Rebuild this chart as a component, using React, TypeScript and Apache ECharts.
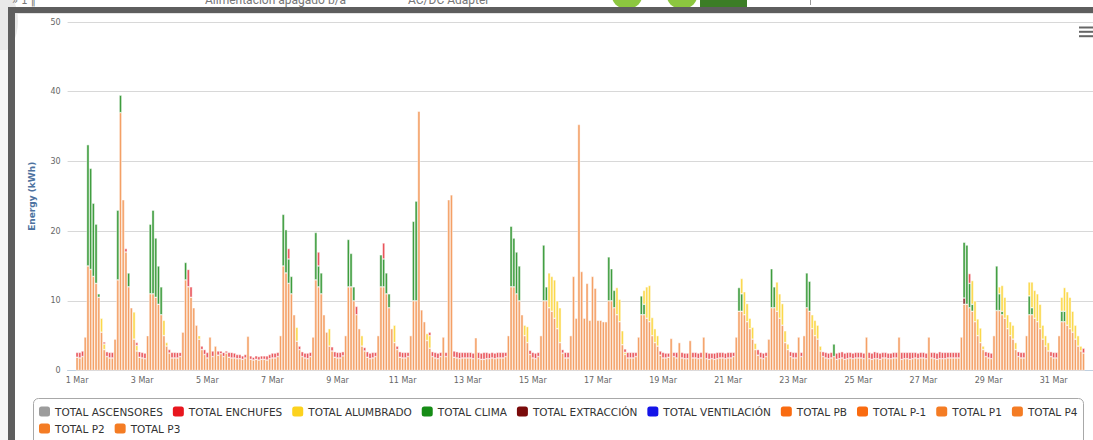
import React, { useEffect, useRef } from 'react';
import * as echarts from 'echarts';

// Tick labels (every second day of March)
const dayLabels = ['1 Mar', '3 Mar', '5 Mar', '7 Mar', '9 Mar', '11 Mar', '13 Mar', '15 Mar', '17 Mar', '19 Mar', '21 Mar', '23 Mar', '25 Mar', '27 Mar', '29 Mar', '31 Mar'];

const legendRow1 = ['TOTAL ASCENSORES', 'TOTAL ENCHUFES', 'TOTAL ALUMBRADO', 'TOTAL CLIMA', 'TOTAL EXTRACCIÓN', 'TOTAL VENTILACIÓN', 'TOTAL PB', 'TOTAL P-1', 'TOTAL P1', 'TOTAL P4'];
const legendRow2 = ['TOTAL P2', 'TOTAL P3'];

// Energy (kWh) per 2-hour slot, one row per day (1..31 Mar), 12 slots per row
const p3Rows: number[][] = [
  [1.9, 1.8, 2.0, 4.8, 15, 14.5, 13.5, 12.5, 10.5, 5.5, 3, 2],
  [1.8, 1.8, 4.5, 13, 37, 24.5, 17, 12, 9, 4.5, 2.8, 1.9],
  [1.8, 1.7, 5, 11, 11, 10.5, 9.5, 8, 5, 3.5, 2.5, 1.8],
  [1.8, 1.8, 2, 5.5, 13, 12, 10.5, 9, 6.5, 4.5, 3, 2.3],
  [1.8, 4.8, 2, 3.5, 2.2, 2.4, 2, 2.5, 1.9, 1.8, 1.8, 1.7],
  [1.7, 1.6, 1.8, 4.9, 1.6, 1.5, 1.6, 1.5, 1.6, 1.6, 1.5, 1.7],
  [1.8, 1.8, 2, 5, 15, 14, 12.5, 11, 8, 4.2, 3, 2],
  [1.8, 1.7, 2, 4.8, 13, 12, 11, 8, 5.5, 3.5, 2.8, 1.9],
  [1.8, 1.8, 2.1, 5, 12, 12, 10, 8, 6, 3.5, 2.8, 1.9],
  [1.7, 1.8, 2, 5, 12, 12, 11, 9, 6, 4, 3, 1.9],
  [1.8, 1.8, 2, 5, 10, 10, 37.2, 8.7, 7, 4.3, 3.2, 2],
  [1.8, 1.7, 2, 4.8, 2, 24.5, 25.2, 1.9, 1.8, 1.7, 1.8, 1.8],
  [1.8, 1.8, 1.7, 4.7, 1.7, 1.6, 1.6, 1.7, 1.7, 1.8, 1.7, 1.8],
  [1.8, 1.8, 2, 5, 12, 12, 11, 10, 8, 5, 4, 2.3],
  [1.8, 1.7, 2, 5, 10, 10, 9, 8.5, 7.5, 6, 4, 2.5],
  [1.8, 1.8, 5, 13.5, 7.5, 35.3, 14.2, 7.5, 12.5, 7.2, 13.5, 11.8],
  [7.2, 7.2, 7, 7, 10, 10, 9, 8, 7, 3.7, 2.3, 1.8],
  [1.8, 1.8, 2, 4.8, 8, 8, 7.5, 7, 5, 4, 3.5, 2.2],
  [1.8, 1.8, 1.9, 4.6, 2, 1.8, 4, 1.8, 1.7, 1.7, 4.3, 1.8],
  [1.8, 1.7, 1.8, 4.8, 1.7, 1.6, 1.7, 1.6, 1.7, 1.8, 1.8, 1.7],
  [1.8, 1.8, 2, 4.8, 8.5, 8.5, 8, 7, 6, 4.5, 3, 2.2],
  [1.8, 1.7, 2, 4.5, 9, 9, 8.5, 7.5, 6.5, 4, 3, 2],
  [1.8, 1.8, 4.8, 2, 5, 9, 8.5, 6, 5, 4.5, 2.8, 2],
  [1.8, 1.7, 1.8, 2, 1.6, 1.7, 1.8, 1.6, 1.7, 1.8, 1.7, 1.8],
  [1.8, 1.8, 1.7, 4.8, 1.7, 1.6, 1.7, 1.7, 1.6, 1.8, 1.8, 1.7],
  [1.7, 1.8, 1.8, 4.8, 1.6, 1.7, 1.7, 1.6, 1.7, 1.8, 1.7, 1.8],
  [1.8, 1.7, 4.8, 1.8, 1.7, 1.6, 1.7, 1.7, 1.7, 1.8, 1.8, 1.8],
  [1.8, 1.8, 4.8, 9.5, 9.5, 9, 8.5, 7, 5, 4, 3, 2],
  [1.8, 1.7, 5, 8.6, 8.6, 8, 7.5, 6, 5, 4.5, 3, 2],
  [1.8, 1.8, 5, 8, 8, 7.5, 7, 6, 4.5, 3.5, 2.8, 2],
  [1.8, 1.8, 5, 7, 7, 6.5, 6, 5.5, 4.5, 3.5, 2.8, 2.5],
];

const enchufesRows: number[][] = [
  [0.7, 0.8, 0.8, 0, 0, 0, 0, 0, 0, 0, 0.3, 0.7],
  [0.8, 0.8, 0, 0, 0, 0, 0.5, 0, 0, 0, 0.4, 0.8],
  [0.8, 0.8, 0, 0, 0, 0, 0, 0, 0, 0, 0.5, 0.8],
  [0.8, 0.8, 0.6, 0, 0, 2.5, 1.5, 0, 0, 0, 0.5, 0.7],
  [0.8, 0, 0.8, 0, 0.6, 0.4, 0.6, 0.3, 0.7, 0.8, 0.7, 0.6],
  [0.6, 0.5, 0.5, 0, 0.5, 0.4, 0.5, 0.5, 0.5, 0.5, 0.6, 0.6],
  [0.7, 0.7, 0.6, 0, 0, 0, 1.5, 0, 0, 0, 0.5, 0.7],
  [0.7, 0.8, 0.6, 0, 0, 2, 0, 0, 0, 0, 0.6, 0.8],
  [0.8, 0.8, 0.6, 0, 0, 0, 0, 1.2, 0, 0, 0.5, 0.8],
  [0.8, 0.8, 0.6, 0, 0, 2.3, 0, 0, 0, 0, 0.5, 0.8],
  [0.8, 0.8, 0.6, 0, 0, 0, 0, 0, 0, 0, 0.5, 0.7],
  [0.8, 0.8, 0.6, 0, 0.6, 0, 0, 0.9, 0.9, 0.9, 0.8, 0.8],
  [0.8, 0.8, 0.8, 0, 0.9, 0.9, 1, 0.9, 0.8, 0.8, 0.8, 0.8],
  [0.8, 0.8, 0.6, 0, 0, 0, 0, 0, 0, 0, 0, 0.6],
  [0.8, 0.8, 0.6, 0, 0, 0, 0, 0, 0, 0, 0, 0.5],
  [0.8, 0.8, 0, 0, 0, 0, 0, 0, 0, 0, 0, 0],
  [0, 0, 0, 0, 0, 0, 0, 0, 0, 0, 0.5, 0.8],
  [0.8, 0.8, 0.6, 0, 0, 0, 0, 0, 0, 0, 0, 0.6],
  [0.8, 0.7, 0.6, 0, 0.6, 0.8, 0, 0.8, 0.8, 0.8, 0, 0.8],
  [0.8, 0.8, 0.8, 0, 0.9, 0.9, 0.8, 0.9, 0.9, 0.8, 0.8, 0.8],
  [0.8, 0.8, 0.6, 0, 0, 0, 0, 0, 0, 0, 0, 0.8],
  [0.8, 0.8, 0.6, 0, 0, 0, 0, 0, 0, 0, 0, 0.7],
  [0.8, 0.8, 0, 0.6, 0, 0, 0, 0, 0, 0, 0, 0.7],
  [0.8, 0.8, 0.8, 0, 0.9, 0.9, 0.9, 0.9, 0.9, 0.8, 0.8, 0.8],
  [0.8, 0.8, 0.8, 0, 0.9, 0.9, 1, 0.9, 0.9, 0.8, 0.8, 0.8],
  [0.8, 0.8, 0.8, 0, 1, 0.9, 0.9, 1, 0.9, 0.8, 0.8, 0.8],
  [0.8, 0.8, 0, 0.8, 0.9, 0.9, 1, 0.9, 0.9, 0.8, 0.8, 0.8],
  [0.8, 0.8, 0, 0, 0, 1.4, 0, 0, 0, 0, 0, 0.7],
  [0.8, 0.8, 0, 0, 0, 0, 0, 0, 0, 0, 0, 0.7],
  [0.8, 0.8, 0, 0, 0, 0, 0, 0, 0, 0, 0, 0.7],
  [0.8, 0.8, 0, 0, 0, 0, 0, 0, 0, 0, 0, 0.7],
];

// [day, 2-hour slot, kWh]
const climaPoints: [number, number, number][] = [
  [1, 4, 17.4], [1, 5, 14.5], [1, 6, 10.5], [1, 7, 8.5], [1, 8, 0.5],
  [2, 3, 10], [2, 4, 2.5], [2, 7, 2],
  [3, 3, 10], [3, 4, 12], [3, 5, 8.5], [3, 6, 5.5], [3, 7, 4],
  [4, 4, 2.5],
  [7, 4, 7.4], [7, 5, 6.2], [7, 6, 3.5], [7, 7, 2.5],
  [8, 4, 6.8], [8, 5, 3], [8, 6, 3],
  [9, 4, 6.8], [9, 5, 4.8], [9, 6, 2],
  [10, 4, 4.6], [10, 5, 4], [10, 6, 3], [10, 7, 2],
  [11, 4, 11.4], [11, 5, 14.3],
  [14, 4, 8.7], [14, 5, 7], [14, 6, 6], [14, 7, 5],
  [15, 4, 8], [15, 5, 2],
  [17, 4, 6.3], [17, 5, 4.6], [17, 6, 2.5],
  [18, 4, 2.7], [18, 5, 1.5],
  [21, 4, 3.4], [21, 5, 2.5],
  [22, 4, 5.6], [22, 5, 3],
  [23, 5, 5], [23, 6, 4.3],
  [24, 3, 1.8],
  [28, 3, 8], [28, 4, 8.5], [28, 5, 3.5], [28, 6, 1],
  [29, 3, 6.4], [29, 4, 2.4], [29, 5, 0.5],
  [30, 3, 2.7], [30, 4, 1],
  [31, 3, 1.5], [31, 4, 1.5],
];

const alumbradoPoints: [number, number, number][] = [
  [1, 9, 2], [1, 10, 0.8],
  [2, 9, 3.9], [2, 10, 0.8],
  [3, 8, 2.2], [3, 9, 0.5],
  [4, 9, 0.5],
  [7, 9, 2],
  [8, 9, 2.5],
  [9, 9, 1.5],
  [10, 9, 2.5],
  [11, 9, 1], [11, 10, 1.8],
  [14, 9, 1.5], [14, 10, 2.3],
  [15, 6, 5], [15, 7, 5], [15, 8, 5.5], [15, 9, 4], [15, 10, 5],
  [17, 7, 3.9], [17, 8, 3.2], [17, 9, 2], [17, 10, 0.3],
  [18, 5, 2], [18, 6, 4.5], [18, 7, 5.2], [18, 8, 2.6], [18, 9, 2], [18, 10, 1.5],
  [21, 5, 2.2], [21, 6, 3.3], [21, 7, 2.6], [21, 8, 1.5], [21, 9, 1.7], [21, 10, 0.9],
  [22, 6, 4.2], [22, 7, 3.5], [22, 8, 3.1], [22, 9, 1.7], [22, 10, 0.8],
  [23, 7, 2], [23, 8, 2.2], [23, 9, 2], [23, 10, 0.7],
  [28, 6, 3.4], [28, 7, 3], [28, 8, 2.4], [28, 9, 2.1], [28, 10, 0.5],
  [29, 4, 1], [29, 5, 3.7], [29, 6, 3], [29, 7, 2], [29, 8, 2], [29, 9, 2], [29, 10, 1],
  [30, 3, 2], [30, 4, 3.7], [30, 5, 4], [30, 6, 4], [30, 7, 3.5], [30, 8, 2], [30, 9, 1.5], [30, 10, 1.2],
  [31, 3, 2], [31, 4, 3.4], [31, 5, 4.8], [31, 6, 4.5], [31, 7, 3], [31, 8, 2], [31, 9, 1.5], [31, 10, 0.7],
];

const extraccionPoints: [number, number, number][] = [[28, 3, 0.9]];
const noPoints: [number, number, number][] = [];

const DAYS = 31;
const SLOTS = 12;
const SLOTS_PER_LABEL = 24; // a label every 2 days
const PAD = 3; // empty slots at each end of the time axis

const fromRows = (rows: number[][]) => rows.flat();
const fromPoints = (pts: [number, number, number][]) => {
  const out: number[] = new Array(DAYS * SLOTS).fill(0);
  for (const [d, s, v] of pts) out[(d - 1) * SLOTS + s] = v;
  return out;
};
const padded = (vals: (number | null)[]) => [
  ...new Array(PAD).fill(null),
  ...vals.map((v) => (v && v > 0 ? v : null)),
  ...new Array(PAD).fill(null),
];

// category per 2-hour slot (with padding slots around the month)
const slotCategories: string[] = [];
for (let i = 0; i < PAD; i++) slotCategories.push(`pre${i}`);
for (let d = 1; d <= DAYS; d++) for (let s = 0; s < SLOTS; s++) slotCategories.push(`${d} Mar ${s * 2}h`);
for (let i = 0; i < PAD; i++) slotCategories.push(`post${i}`);

// legend colour (solid) and bar fill (as it shows among the thin white-edged columns)
const seriesDefs: { name: string; legend: string; fill: string; values: number[] }[] = [
  { name: 'TOTAL P3', legend: '#f47c24', fill: '#f4a066', values: fromRows(p3Rows) },
  { name: 'TOTAL P2', legend: '#f47c24', fill: '#f4a066', values: fromPoints(noPoints) },
  { name: 'TOTAL P4', legend: '#f47c24', fill: '#f4a066', values: fromPoints(noPoints) },
  { name: 'TOTAL P1', legend: '#f47c24', fill: '#f4a066', values: fromPoints(noPoints) },
  { name: 'TOTAL P-1', legend: '#f96b10', fill: '#f58a45', values: fromPoints(noPoints) },
  { name: 'TOTAL PB', legend: '#f96b10', fill: '#f58a45', values: fromPoints(noPoints) },
  { name: 'TOTAL VENTILACIÓN', legend: '#1414e8', fill: '#1414e8', values: fromPoints(noPoints) },
  { name: 'TOTAL EXTRACCIÓN', legend: '#7a0b0b', fill: '#8a2a2a', values: fromPoints(extraccionPoints) },
  { name: 'TOTAL CLIMA', legend: '#168c16', fill: '#3d9c3d', values: fromPoints(climaPoints) },
  { name: 'TOTAL ALUMBRADO', legend: '#fcd21e', fill: '#fbd84a', values: fromPoints(alumbradoPoints) },
  { name: 'TOTAL ENCHUFES', legend: '#e8161e', fill: '#e9545a', values: fromRows(enchufesRows) },
  { name: 'TOTAL ASCENSORES', legend: '#9c9c9c', fill: '#9c9c9c', values: fromPoints(noPoints) },
];
const legendColor: Record<string, string> = Object.fromEntries(seriesDefs.map((s) => [s.name, s.legend]));

const FONT = 'DejaVu Sans, Verdana, sans-serif';

const isLabelSlot = (idx: number) => idx >= PAD && (idx - PAD) % SLOTS_PER_LABEL === 0 && (idx - PAD) / SLOTS_PER_LABEL < dayLabels.length;

function Chart() {
  const ref = useRef<HTMLDivElement>(null);
  useEffect(() => {
    if (!ref.current) return;
    const chart = echarts.init(ref.current, undefined, { renderer: 'svg' });
    const legendCommon = {
      orient: 'horizontal' as const,
      icon: 'roundRect',
      itemWidth: 11,
      itemHeight: 10,
      itemGap: 10,
      selectedMode: false,
      textStyle: { color: '#333', fontSize: 10.5, fontFamily: FONT },
      padding: 0,
    };
    const legendData = (names: string[]) => names.map((name) => ({ name, itemStyle: { color: legendColor[name], borderWidth: 0 } }));
    chart.setOption({
      animation: false,
      textStyle: { fontFamily: FONT },
      grid: { left: 67.6, right: 0, top: 22, bottom: 69.5, containLabel: false },
      xAxis: {
        type: 'category',
        data: slotCategories,
        boundaryGap: true,
        splitLine: { show: false },
        axisLine: { show: true, lineStyle: { color: '#c0d0e0' } },
        axisTick: { show: false },
        axisLabel: {
          interval: (idx: number) => isLabelSlot(idx),
          formatter: (_v: string, idx: number) => dayLabels[(idx - PAD) / SLOTS_PER_LABEL] ?? '',
          color: '#666',
          fontSize: 8,
          margin: 6,
          fontFamily: FONT,
        },
      },
      yAxis: {
        type: 'value',
        min: 0,
        max: 50,
        interval: 10,
        name: 'Energy (kWh)',
        nameLocation: 'middle',
        nameGap: 31,
        nameRotate: 90,
        nameTextStyle: { color: '#4d72a0', fontSize: 9, fontWeight: 'bold', fontFamily: FONT },
        axisLine: { show: false },
        axisTick: { show: false },
        axisLabel: { color: '#666', fontSize: 8, margin: 7, fontFamily: FONT },
        splitLine: { lineStyle: { color: '#d8d8d8', width: 1 } },
      },
      legend: [
        { ...legendCommon, data: legendData(legendRow1), left: 39, top: 406 },
        { ...legendCommon, data: legendData(legendRow2), left: 39, top: 423 },
      ],
      graphic: [
        {
          type: 'rect',
          shape: { x: 33.5, y: 398.5, width: 1050, height: 60, r: 5 },
          style: { fill: 'none', stroke: '#a8a8a8', lineWidth: 1 },
          silent: true,
        },
        { type: 'rect', shape: { x: 1079, y: 26.5, width: 16, height: 2 }, style: { fill: '#666' } },
        { type: 'rect', shape: { x: 1079, y: 30.8, width: 16, height: 2 }, style: { fill: '#666' } },
        { type: 'rect', shape: { x: 1079, y: 35.2, width: 16, height: 2 }, style: { fill: '#666' } },
      ],
      series: seriesDefs.map((s) => ({
        name: s.name,
        type: 'bar',
        stack: 'total',
        barCategoryGap: '0%',
        data: padded(s.values),
        itemStyle: { color: s.fill, borderColor: '#ffffff', borderWidth: 0.5 },
        emphasis: { disabled: true },
      })),
    });
    return () => chart.dispose();
  }, []);
  return <div ref={ref} style={{ position: 'absolute', left: 0, top: 0, width: 1093, height: 440 }} />;
}

export default function App() {
  const abs = { position: 'absolute' as const };
  return (
    <div style={{ ...abs, left: 0, top: 0, width: 1093, height: 440, overflow: 'hidden', background: '#fff' }}>
      {/* page behind the popup */}
      <div style={{ ...abs, left: -22, top: -12, width: 40, height: 66, borderRadius: '50%', background: '#e9e9e9' }} />
      <div style={{ ...abs, left: 12, top: -5, fontSize: 10, color: '#777', fontFamily: 'DejaVu Sans' }}>» 1 ‖</div>
      <div style={{ ...abs, left: 205, top: -7, fontSize: 12, color: '#777', fontFamily: 'Roboto', whiteSpace: 'nowrap' }}>Alimentación apagado b/a</div>
      <div style={{ ...abs, left: 408, top: -7, fontSize: 12, color: '#777', fontFamily: 'Roboto', whiteSpace: 'nowrap' }}>AC/DC Adapter</div>
      <div style={{ ...abs, left: 612, top: -20, width: 30, height: 28, borderRadius: 12, background: '#8cc63f' }} />
      <div style={{ ...abs, left: 667, top: -20, width: 30, height: 28, borderRadius: 12, background: '#8cc63f' }} />
      <div style={{ ...abs, left: 700, top: 0, width: 47, height: 8, background: '#3c7d26' }} />
      <div style={{ ...abs, left: 810, top: 0, width: 1, height: 5, background: '#999' }} />
      <div style={{ ...abs, left: 0, top: 50, width: 8, height: 390, background: '#f7f7f7' }} />
      <Chart />
      {/* popup frame */}
      <div style={{ ...abs, left: 8, top: 7, width: 1085, height: 6, background: '#5e5e5e' }} />
      <div style={{ ...abs, left: 8, top: 7, width: 7, height: 433, background: '#5e5e5e' }} />
      <div style={{ ...abs, left: 15, top: 13, width: 1078, height: 1, background: '#e4e4e4' }} />
    </div>
  );
}
